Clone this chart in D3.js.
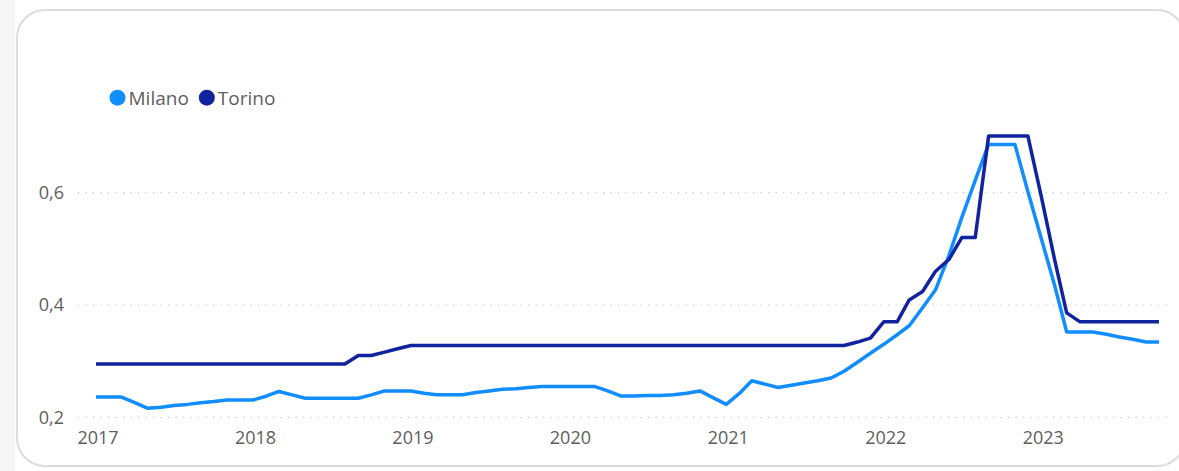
<!DOCTYPE html>
<html>
<head>
<meta charset="utf-8">
<script src="https://cdn.jsdelivr.net/npm/d3@7"></script>
<style>
  html, body { margin: 0; padding: 0; background: #ffffff; }
  svg { display: block; font-family: "Segoe UI", "Open Sans", "DejaVu Sans", sans-serif; }
</style>
</head>
<body>
<svg id="chart" width="1179" height="471"></svg>
<script>
// ---------- data ----------
const startYear = 2017;
const startMonth = 0; // January 2017, monthly points
const seriesNames = ["Milano", "Torino"];
const seriesColors = ["#118DFF", "#12239E"];
const milano = [
  0.236, 0.236, 0.236, 0.226, 0.216, 0.218, 0.221, 0.223, 0.226, 0.228, 0.231, 0.231,
  0.231, 0.238, 0.246, 0.240, 0.234, 0.234, 0.234, 0.234, 0.234, 0.240, 0.247, 0.247,
  0.247, 0.243, 0.240, 0.240, 0.240, 0.244, 0.247, 0.250, 0.251, 0.253, 0.255, 0.255,
  0.255, 0.255, 0.255, 0.247, 0.238, 0.238, 0.239, 0.239, 0.240, 0.243, 0.247, 0.235,
  0.223, 0.243, 0.265, 0.259, 0.253, 0.257, 0.261, 0.265, 0.270, 0.282, 0.298, 0.314,
  0.330, 0.347, 0.363, 0.395, 0.427, 0.488, 0.556, 0.622, 0.686, 0.686, 0.686, 0.602,
  0.519, 0.435, 0.352, 0.352, 0.352, 0.348, 0.343, 0.339, 0.334, 0.334
];
const torino = [
  0.295, 0.295, 0.295, 0.295, 0.295, 0.295, 0.295, 0.295, 0.295, 0.295, 0.295, 0.295,
  0.295, 0.295, 0.295, 0.295, 0.295, 0.295, 0.295, 0.295, 0.310, 0.310, 0.316, 0.322,
  0.328, 0.328, 0.328, 0.328, 0.328, 0.328, 0.328, 0.328, 0.328, 0.328, 0.328, 0.328,
  0.328, 0.328, 0.328, 0.328, 0.328, 0.328, 0.328, 0.328, 0.328, 0.328, 0.328, 0.328,
  0.328, 0.328, 0.328, 0.328, 0.328, 0.328, 0.328, 0.328, 0.328, 0.328, 0.334, 0.341,
  0.370, 0.370, 0.409, 0.424, 0.460, 0.481, 0.520, 0.520, 0.701, 0.701, 0.701, 0.701,
  0.594, 0.481, 0.386, 0.370, 0.370, 0.370, 0.370, 0.370, 0.370, 0.370
];
const xTickYears = [2017, 2018, 2019, 2020, 2021, 2022, 2023];
const yTicks = [0.2, 0.4, 0.6];

// ---------- setup ----------
const svg = d3.select("#chart");
const W = 1179, H = 471;

// page / card
svg.append("rect").attr("x", 0).attr("y", 0).attr("width", 15).attr("height", H).attr("fill", "#f6f6f6");
svg.append("rect")
  .attr("x", 17).attr("y", 10).attr("width", 1168).attr("height", 456)
  .attr("rx", 28).attr("ry", 28)
  .attr("fill", "#ffffff").attr("stroke", "#dcdcdc").attr("stroke-width", 2);

const dates = milano.map((_, i) => new Date(startYear, startMonth + i, 1));

const x = d3.scaleTime()
  .domain([dates[0], dates[dates.length - 1]])
  .range([96, 1159]);
const y = d3.scaleLinear()
  .domain([0.2, 0.6])
  .range([417.3, 192.7]);

// gridlines
svg.append("g").selectAll("line")
  .data(yTicks)
  .join("line")
  .attr("x1", 78).attr("x2", 1168)
  .attr("y1", d => y(d)).attr("y2", d => y(d))
  .attr("stroke", "#c8c6c4")
  .attr("stroke-width", 1.2)
  .attr("stroke-dasharray", "1.2,6.3");

const fmt = d => d3.format(".1f")(d).replace(".", ",");

// y axis
const yAxis = svg.append("g")
  .attr("transform", "translate(78,0)")
  .call(d3.axisLeft(y).tickValues(yTicks).tickFormat(fmt).tickSize(0).tickPadding(14));
yAxis.select(".domain").remove();
yAxis.selectAll("text").attr("fill", "#605E5C").style("font-size", "18px")
  .style("font-family", "'Segoe UI', 'Open Sans', sans-serif");

// x axis
const xAxis = svg.append("g")
  .attr("transform", "translate(0,417.3)")
  .call(d3.axisBottom(x)
    .tickValues(xTickYears.map(yr => new Date(yr, 0, 1)))
    .tickFormat(d3.timeFormat("%Y"))
    .tickSize(0).tickPadding(14));
xAxis.select(".domain").remove();
xAxis.selectAll("text").attr("fill", "#605E5C").style("font-size", "18px")
  .style("font-family", "'Segoe UI', 'Open Sans', sans-serif")
  .attr("dx", "1.5");

// lines
const line = d3.line()
  .x((d, i) => x(dates[i]))
  .y(d => y(d));

const allSeries = [milano, torino];
svg.append("g").selectAll("path")
  .data(allSeries)
  .join("path")
  .attr("d", d => line(d))
  .attr("fill", "none")
  .attr("stroke", (d, i) => seriesColors[i])
  .attr("stroke-width", 3.5)
  .attr("stroke-linejoin", "round")
  .attr("stroke-linecap", "butt");

// legend
const legend = svg.append("g").attr("transform", "translate(0,97.7)");
let cx = 117.5;
seriesNames.forEach((name, i) => {
  legend.append("circle").attr("cx", cx).attr("cy", 0).attr("r", 8).attr("fill", seriesColors[i]);
  const t = legend.append("text")
    .attr("x", cx + 11).attr("y", 0).attr("dy", "0.36em")
    .attr("fill", "#605E5C")
    .style("font-size", "19px")
    .text(name);
  const w = t.node().getComputedTextLength();
  cx = cx + 11 + w + 18;
});
</script>
</body>
</html>
